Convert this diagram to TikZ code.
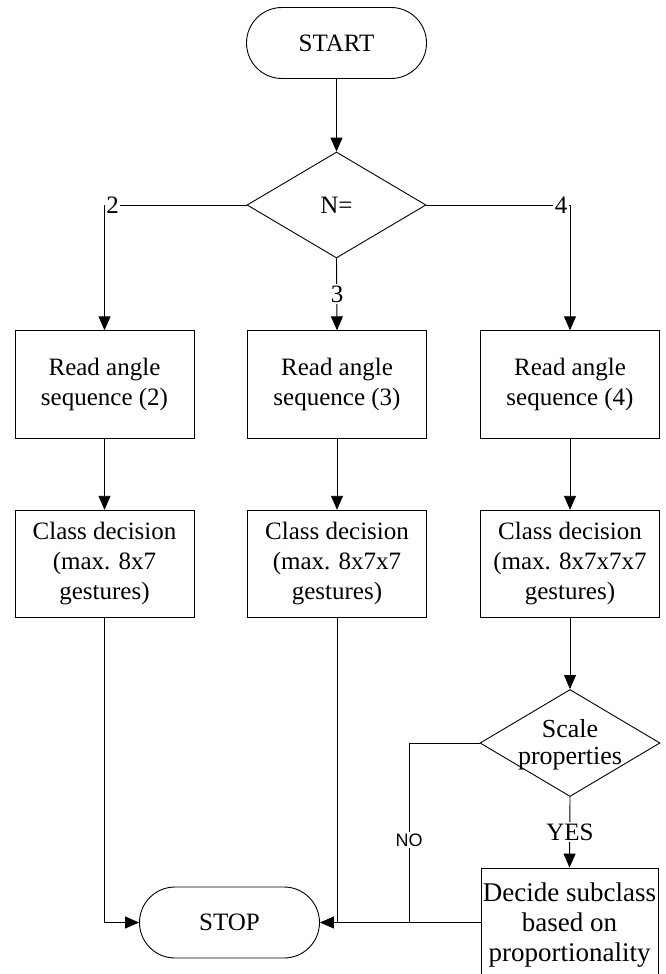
\documentclass[tikz,border=0pt]{standalone}
\usepackage{fontspec}
\setmainfont{Liberation Serif}
\newfontfamily\arialf{Liberation Sans}
\usetikzlibrary{shapes.geometric,arrows.meta}
\begin{document}
\begin{tikzpicture}[x=1pt,y=-1pt,
  line width=0.9pt,
  every node/.style={font=\fontsize{25}{30}\selectfont},
  term/.style={draw,rectangle,rounded corners=35.5pt,minimum width=180pt,minimum height=71pt,inner sep=0pt},
  proc/.style={draw,rectangle,minimum width=179pt,minimum height=107.5pt,inner sep=0pt,align=center},
  dia/.style={draw,diamond,minimum width=179pt,minimum height=106pt,inner sep=0pt},
  arr/.style={-{Triangle[length=14pt,width=12pt]}},
  lab/.style={fill=white,inner sep=1.5pt}
]
\useasboundingbox (0,0) rectangle (666,974);
\clip (0,0) rectangle (666,974);

\node[term] (start) at (336.5,43) {START};
\node[dia] (n) at (336.5,205) {};
\node (ntext) at (336.5,205) {N=};

\node[proc] (r2) at (104.5,384.5) {Read angle\\sequence (2)};
\node[proc] (r3) at (337,384.5) {Read angle\\sequence (3)};
\node[proc] (r4) at (570,384.5) {Read angle\\sequence (4)};

\node[proc] (c2) at (104.5,564) {Class decision\\(max. 8x7\\gestures)};
\node[proc] (c3) at (337,564) {Class decision\\(max. 8x7x7\\gestures)};
\node[proc] (c4) at (570,564) {Class decision\\(max. 8x7x7x7\\gestures)};

\node[dia,minimum width=180pt,minimum height=107pt] (sp) at (570,743) {};
\node[align=center,font=\fontsize{26}{27}\selectfont] (sptext) at (570,745) {Scale\\properties};

\node[draw,rectangle,minimum width=177pt,minimum height=130pt,inner sep=0pt] (dec) at (569.5,933) {};
\node[align=center,font=\fontsize{27}{30}\selectfont] (dectext) at (569.5,925) {Decide subclass\\based on\\proportionality};

\node[term] (stop) at (229.5,922.5) {STOP};

\coordinate (j2) at (104.5,922.5);
\coordinate (j3) at (337,922.5);
\coordinate (jno) at (409,743);
\coordinate (jno2) at (409,922.5);

\draw[arr] (start) -- (n);
\draw[arr] (n.west) -| (r2.north);
\draw[arr] (n.east) -| (r4.north);
\draw[arr] (n.south) -- (r3.north);
\node[lab] (l2) at (112.5,205) {2};
\node[lab] (l4) at (561,205) {4};
\node[lab] (l3) at (337,294) {3};

\draw[arr] (r2) -- (c2);
\draw[arr] (r3) -- (c3);
\draw[arr] (r4) -- (c4);
\draw[arr] (c4) -- (sp);
\draw[arr] (sp.south) -- (dec.north);
\node[lab] (lyes) at (570,832) {YES};

\draw (sp.west) -- (jno) -- (jno2);
\node[lab,font=\arialf\fontsize{18}{20}\selectfont] (lno) at (409,840) {NO};

\draw[arr] (c2.south) -- (j2) -- (stop.west);
\draw (c3.south) -- (j3);
\draw[arr] (dec.west |- stop.east) -- (stop.east);
\end{tikzpicture}
\end{document}
